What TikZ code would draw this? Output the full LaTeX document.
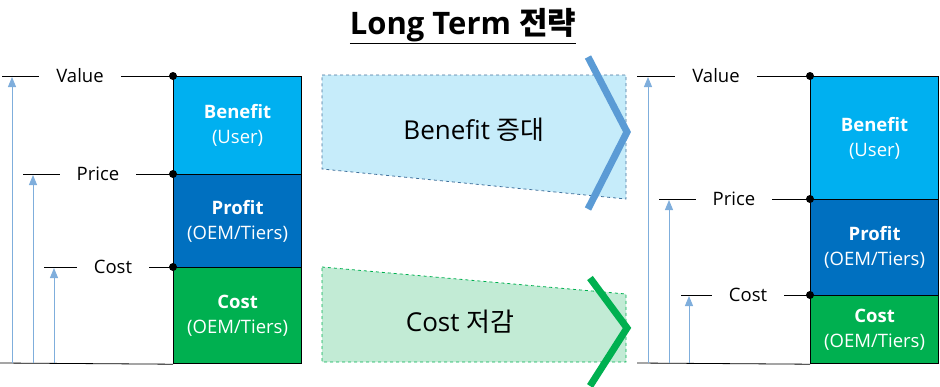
\documentclass[tikz,border=0pt]{standalone}
\usepackage{fontspec}
\setmainfont{Open Sans}
\newfontfamily\kr{Noto Sans CJK KR}
\usepackage{xcolor}
\usetikzlibrary{arrows.meta, positioning}

\definecolor{benefitblue}{HTML}{00B0F0}
\definecolor{profitblue}{HTML}{0070C0}
\definecolor{costgreen}{HTML}{00B050}
\definecolor{arrowblue}{HTML}{7FAEDC}
\definecolor{chevblue}{HTML}{5B9BD5}
\definecolor{panelblue}{HTML}{C6ECFA}
\definecolor{paneledge}{HTML}{41719C}
\definecolor{panelgreen}{HTML}{C2EBD5}

\begin{document}
\begin{tikzpicture}[
    x=1pt, y=-1pt,
    block/.style={draw=black, line width=1.2pt, anchor=north west, inner sep=0pt,
                  minimum width=128pt, align=center, text=white,
                  font=\fontsize{18.5}{25}\selectfont},
    lbl/.style={inner xsep=17pt, inner ysep=0pt, font=\fontsize{18.5}{22}\selectfont},
    level/.style={line width=0.8pt},
    rise/.style={arrowblue, line width=1pt, -{Triangle[length=10pt, width=8pt]}},
    knot/.style={circle, fill=black, inner sep=0pt, minimum size=8pt},
    chevron/.style={line width=7pt, miter limit=10},
    shiftlbl/.style={font=\fontsize{26}{30}\selectfont},
]
    \useasboundingbox (0,0) rectangle (940,386);

    % title
    \node[font=\fontsize{31}{35}\selectfont\bfseries] (title) at (463,26)
        {\underline{Long Term {\kr 전략}}};

    % ---- today (left)
    \node[block, fill=benefitblue, minimum height=98pt] (benefitL) at (173,76)
        {\textbf{Benefit}\\(User)};
    \node[block, fill=profitblue, minimum height=93pt] (profitL) at (173,174)
        {\textbf{Profit}\\(OEM/Tiers)};
    \node[block, fill=costgreen, minimum height=96pt] (costL) at (173,267)
        {\textbf{Cost}\\(OEM/Tiers)};

    \node[lbl] (valueL) at (80,76) {Value};
    \node[lbl] (priceL) at (98,174) {Price};
    \node[lbl] (costlblL) at (113,267) {Cost};
    \coordinate (v0L) at (2,76);
    \coordinate (p0L) at (23,174);
    \coordinate (c0L) at (44,267);
    \coordinate (g0L) at (0,363);

    \draw[level] (v0L) -- (valueL);
    \draw[level] (valueL) -- (benefitL.north west);
    \draw[level] (p0L) -- (priceL);
    \draw[level] (priceL) -- (profitL.north west);
    \draw[level] (c0L) -- (costlblL);
    \draw[level] (costlblL) -- (costL.north west);
    \draw[level] (g0L) -- (costL.south west);

    \draw[rise] (12,363) -- (12,77);
    \draw[rise] (33,363) -- (33,175);
    \draw[rise] (54,363) -- (54,268);

    \node[knot] at (benefitL.north west) {};
    \node[knot] at (profitL.north west) {};
    \node[knot] at (costL.north west) {};

    % ---- long term (right)
    \node[block, fill=benefitblue, minimum height=123pt] (benefitR) at (810,76)
        {\textbf{Benefit}\\(User)};
    \node[block, fill=profitblue, minimum height=96pt] (profitR) at (810,199)
        {\textbf{Profit}\\(OEM/Tiers)};
    \node[block, fill=costgreen, minimum height=68pt] (costR) at (810,295)
        {\textbf{Cost}\\(OEM/Tiers)};

    \node[lbl] (valueR) at (716,76) {Value};
    \node[lbl] (priceR) at (734,199) {Price};
    \node[lbl] (costlblR) at (748,295) {Cost};
    \coordinate (v0R) at (637,76);
    \coordinate (p0R) at (659,199);
    \coordinate (c0R) at (681,295);
    \coordinate (g0R) at (637,363);

    \draw[level] (v0R) -- (valueR);
    \draw[level] (valueR) -- (benefitR.north west);
    \draw[level] (p0R) -- (priceR);
    \draw[level] (priceR) -- (profitR.north west);
    \draw[level] (c0R) -- (costlblR);
    \draw[level] (costlblR) -- (costR.north west);
    \draw[level] (g0R) -- (costR.south west);

    \draw[rise] (648,363) -- (648,77);
    \draw[rise] (669,363) -- (669,200);
    \draw[rise] (689,363) -- (689,296);

    \node[knot] at (benefitR.north west) {};
    \node[knot] at (profitR.north west) {};
    \node[knot] at (costR.north west) {};

    % ---- shifts (middle)
    \draw[paneledge, fill=panelblue, dashed, line width=0.8pt]
        (322,75) -- (626,75) -- (626,199) -- (322,169) -- cycle;
    \draw[chevblue, chevron] (588,57) -- (627,132) -- (588,209);
    \node[shiftlbl] (upshift) at (474,130) {Benefit {\kr 증대}};

    \draw[costgreen, fill=panelgreen, dashed, line width=0.8pt]
        (322,267) -- (626,294) -- (626,362) -- (322,362) -- cycle;
    \draw[costgreen, chevron] (590,278) -- (627,328) -- (590,386);
    \node[shiftlbl] (downshift) at (460,322) {Cost {\kr 저감}};
\end{tikzpicture}
\end{document}
